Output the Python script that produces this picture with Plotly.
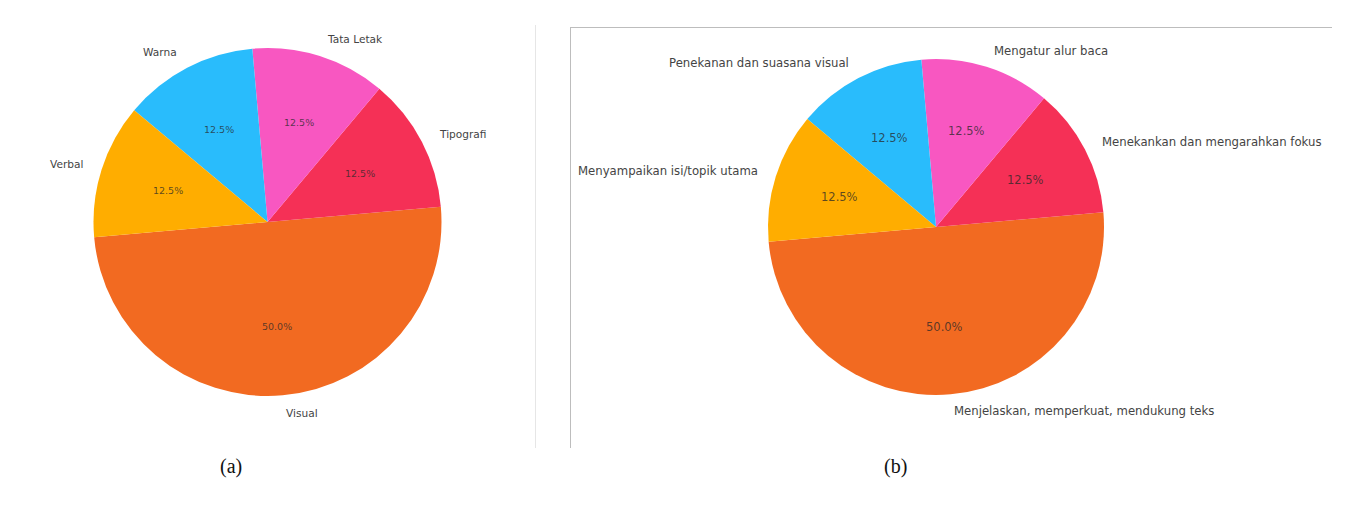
import math
import plotly.graph_objects as go

W, H = 1346, 522

# ---- data ----
labels_a = ["Visual", "Tipografi", "Tata Letak", "Warna", "Verbal"]
values_a = [50.0, 12.5, 12.5, 12.5, 12.5]
labels_b = ["Menjelaskan, memperkuat, mendukung teks", "Menekankan dan mengarahkan fokus",
            "Mengatur alur baca", "Penekanan dan suasana visual", "Menyampaikan isi/topik utama"]
values_b = [50.0, 12.5, 12.5, 12.5, 12.5]
colors = ["#F26A21", "#F53056", "#F857C1", "#29BCFC", "#FFAD00"]
captions = ["(a)", "(b)"]

START_DEG = 185.0  # matplotlib-style start angle (counter-clockwise from +x)

# pie geometry (pixels): center x, center y, radius, label font, pct font
geo = [dict(cx=267.5, cy=222.0, r=174.0, lf=10.6, pf=9.5),
       dict(cx=936.0, cy=227.0, r=168.0, lf=11.7, pf=11.5)]

fig = go.Figure()
annotations = []


def px(x):
    return x / W


def py(y):
    return 1 - y / H


for labels, values, g in [(labels_a, values_a, geo[0]), (labels_b, values_b, geo[1])]:
    cx, cy, r = g["cx"], g["cy"], g["r"]
    total = sum(values)
    # plotly counterclockwise: rotation is the boundary where the 2nd slice begins
    rot = 90 - (START_DEG + 360.0 * values[0] / total)
    rot = ((rot + 360) % 720) - 360
    fig.add_trace(go.Pie(
        labels=labels, values=values, sort=False, direction="counterclockwise",
        rotation=rot, marker=dict(colors=colors, line=dict(width=0)),
        textinfo="none", hoverinfo="label+percent", showlegend=False,
        domain=dict(x=[px(cx - r), px(cx + r)], y=[py(cy + r), py(cy - r)]),
    ))
    ang = START_DEG
    for lab, v in zip(labels, values):
        span = 360.0 * v / total
        mid = math.radians(ang + span / 2)
        ang += span
        c, s = math.cos(mid), math.sin(mid)
        # outer label at 1.1 r
        lx, ly = cx + 1.1 * r * c, cy - 1.1 * r * s
        annotations.append(dict(
            x=px(lx), y=py(ly), xref="paper", yref="paper", text=lab, showarrow=False,
            xanchor="left" if c >= 0 else "right", yanchor="middle",
            font=dict(family="DejaVu Sans", size=g["lf"], color="#444444")))
        # percentage at 0.6 r
        tx, ty = cx + 0.6 * r * c, cy - 0.6 * r * s
        annotations.append(dict(
            x=px(tx), y=py(ty), xref="paper", yref="paper",
            text=f"{100 * v / total:.1f}%", showarrow=False,
            xanchor="center", yanchor="middle",
            font=dict(family="DejaVu Sans", size=g["pf"], color="rgba(40,40,40,0.75)")))

for cap, x in zip(captions, [231, 895]):
    annotations.append(dict(x=px(x), y=py(466), xref="paper", yref="paper", text=cap,
                            showarrow=False, xanchor="center", yanchor="middle",
                            font=dict(family="Liberation Serif", size=20, color="#111111")))

shapes = [
    dict(type="line", xref="paper", yref="paper", x0=px(535.5), x1=px(535.5), y0=py(25), y1=py(448),
         line=dict(color="#e6e6e6", width=1)),
    dict(type="line", xref="paper", yref="paper", x0=px(570.5), x1=px(570.5), y0=py(27), y1=py(448),
         line=dict(color="#bdbdbd", width=1)),
    dict(type="line", xref="paper", yref="paper", x0=px(570), x1=px(1332), y0=py(27.5), y1=py(27.5),
         line=dict(color="#bdbdbd", width=1)),
]

fig.update_layout(
    width=W, height=H, margin=dict(l=0, r=0, t=0, b=0),
    paper_bgcolor="white", plot_bgcolor="white",
    annotations=annotations, shapes=shapes,
)

fig.write_html("out.html")
